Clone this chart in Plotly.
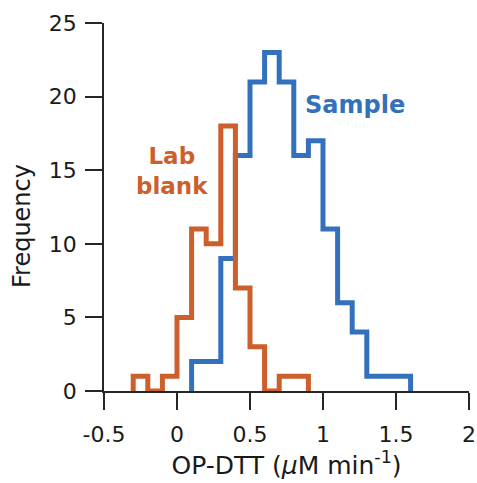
import plotly.graph_objects as go

# ---- data ----
bin_width = 0.1
lab_blank_bin_starts = [-0.3, -0.2, -0.1, 0.0, 0.1, 0.2, 0.3, 0.4, 0.5, 0.6, 0.7, 0.8]
lab_blank_counts = [1, 0, 1, 5, 11, 10, 18, 7, 3, 0, 1, 1]

sample_bin_starts = [0.1, 0.2, 0.3, 0.4, 0.5, 0.6, 0.7, 0.8, 0.9, 1.0, 1.1, 1.2, 1.3, 1.4, 1.5]
sample_counts = [2, 2, 9, 16, 21, 23, 21, 16, 17, 11, 6, 4, 1, 1, 1]

x_tick_vals = [-0.5, 0, 0.5, 1, 1.5, 2]
x_tick_text = ["-0.5", "0", "0.5", "1", "1.5", "2"]
y_tick_vals = [0, 5, 10, 15, 20, 25]

BLUE = "#3371BD"
ORANGE = "#CC5F2B"
AXIS = "#262626"
FONT = "DejaVu Sans"


def stairs(starts, counts, width):
    xs = [starts[0]] + list(starts) + [starts[-1] + width]
    ys = [0] + list(counts) + [0]
    return xs, ys


fig = go.Figure()

sx, sy = stairs(sample_bin_starts, sample_counts, bin_width)
fig.add_trace(go.Scatter(x=sx, y=sy, mode="lines", line=dict(color=BLUE, width=5, shape="hv"),
                         name="Sample", hoverinfo="skip"))
lx, ly = stairs(lab_blank_bin_starts, lab_blank_counts, bin_width)
fig.add_trace(go.Scatter(x=lx, y=ly, mode="lines", line=dict(color=ORANGE, width=5, shape="hv"),
                         name="Lab blank", hoverinfo="skip"))

fig.add_annotation(x=1.216, y=19.45, xref="x", yref="y", text="<b>Sample</b>", showarrow=False,
                   font=dict(family=FONT, size=24, color=BLUE), xanchor="center", yanchor="middle")
fig.add_annotation(x=-0.032, y=14.95, xref="x", yref="y", text="<b>Lab<br>blank</b>", showarrow=False,
                   font=dict(family=FONT, size=23, color=ORANGE), xanchor="center", yanchor="middle")

fig.add_annotation(x=-0.225, y=0.448, xref="paper", yref="paper", text="Frequency", textangle=-90,
                   showarrow=False, font=dict(family=FONT, size=24, color="#1a1a1a"),
                   xanchor="center", yanchor="middle")

fig.update_layout(
    width=477, height=483,
    margin=dict(l=104, r=8, t=23, b=92, autoexpand=False),
    paper_bgcolor="white", plot_bgcolor="white",
    showlegend=False,
    font=dict(family=FONT, size=22, color="#1a1a1a"),
    xaxis=dict(range=[-0.5, 2], tickvals=x_tick_vals, ticktext=x_tick_text,
               showline=True, linecolor=AXIS, linewidth=1.5, ticks="outside", ticklen=17,
               tickwidth=1.5, tickcolor=AXIS, showgrid=False, zeroline=False,
               ticklabeloverflow="allow", ticklabelstandoff=6,
               title=dict(text="OP-DTT (<i>μ</i>M min<sup>-1</sup>)", font=dict(family=FONT, size=25),
                          standoff=10)),
    yaxis=dict(range=[0, 25], tickvals=y_tick_vals,
               showline=True, linecolor=AXIS, linewidth=1.5, ticks="outside", ticklen=17,
               tickwidth=1.5, tickcolor=AXIS, showgrid=False, zeroline=False,
               ticklabeloverflow="allow", ticklabelstandoff=4),
)

fig.write_html("out.html", config={"displayModeBar": False},
               post_script="document.body.style.margin='0';document.body.style.padding='0';")
